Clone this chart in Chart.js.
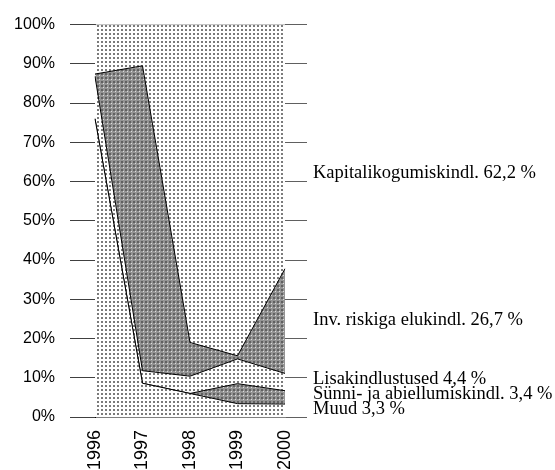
<!DOCTYPE html>
<html>
<head>
<meta charset="utf-8">
<script src="https://cdn.jsdelivr.net/npm/chart.js@4/dist/chart.umd.min.js"></script>
<style>
  body { margin: 0; background: #fff; }
  canvas { display: block; }
</style>
</head>
<body>
<canvas id="chart" width="555" height="470"></canvas>
<script>
// shares of each insurance type, % of total, 1996-2000
const years = ['1996', '1997', '1998', '1999', '2000'];
const muud = [76.0, 8.6, 6.0, 3.4, 3.3];
const synni = [0, 0, 0, 5.1, 3.4];
const lisa = [10.8, 3.2, 4.4, 6.3, 4.4];
const inv = [0.6, 77.7, 8.6, 0.8, 26.7];
const kapital = [12.6, 10.5, 81.0, 84.4, 62.2];
const seriesNames = ['Muud', 'Sünni- ja abiellumiskindl.', 'Lisakindlustused', 'Inv. riskiga elukindl.', 'Kapitalikogumiskindl.'];
const yTicks = [0, 10, 20, 30, 40, 50, 60, 70, 80, 90, 100];

// where the right-hand series labels sit, in axis units (same order as seriesNames)
const labelAt = [2.0, 5.8, 9.6, 24.7, 62.2];

function makePattern(bg, dot, spot) {
  const c = document.createElement('canvas');
  c.width = 4; c.height = 4;
  const g = c.getContext('2d');
  g.fillStyle = bg;
  g.fillRect(0, 0, 4, 4);
  g.fillStyle = dot;
  g.fillRect(1, 1, 2, 2);
  if (spot) {
    g.fillStyle = spot;
    g.fillRect(3, 3, 1, 1);
  }
  return g.createPattern(c, 'repeat');
}

const ctx = document.getElementById('chart').getContext('2d');
const light = makePattern('#ffffff', '#7a7a7a');
const dark = makePattern('#949494', '#606060', '#dcdcdc');

const seriesData = [muud, synni, lisa, inv, kapital];
const fills = [light, dark, light, dark, light];

const rightLabels = {
  id: 'rightLabels',
  afterDraw(chart) {
    const y = chart.scales.y;
    const x0 = chart.chartArea.right + 28;
    const c = chart.ctx;
    c.save();
    c.fillStyle = '#000';
    c.font = '18.5px "Liberation Serif", "Times New Roman", serif';
    c.textBaseline = 'middle';
    c.textAlign = 'left';
    seriesNames.forEach((name, i) => {
      const vals = seriesData[i];
      const last = vals[vals.length - 1];
      const txt = name + ' ' + last.toFixed(1).replace('.', ',') + ' %';
      c.fillText(txt, x0, y.getPixelForValue(labelAt[i]));
    });
    c.restore();
  }
};

new Chart(ctx, {
  type: 'line',
  data: {
    labels: years,
    datasets: seriesData.map((vals, i) => ({
      label: seriesNames[i],
      data: vals,
      fill: i === 0 ? 'origin' : '-1',
      backgroundColor: fills[i],
      borderColor: i === 4 ? '#808080' : '#000',
      borderWidth: 1,
      pointRadius: 0,
      tension: 0,
      yAxisID: 'y'
    }))
  },
  options: {
    responsive: false,
    animation: false,
    devicePixelRatio: 1,
    layout: { padding: { top: 20, left: 0, right: 0, bottom: 0 } },
    plugins: {
      legend: { display: false },
      tooltip: { enabled: false }
    },
    scales: {
      x: {
        type: 'category',
        offset: false,
        grid: { display: false, drawTicks: false },
        border: { display: true, color: '#808080' },
        ticks: {
          minRotation: 90, maxRotation: 90, padding: 13, color: '#000',
          font: { size: 18, family: '"Liberation Sans", Arial, sans-serif' }
        },
        afterFit: s => { s.height = 53; }
      },
      y: {
        stacked: true,
        position: 'left',
        min: 0, max: 100,
        afterBuildTicks: s => { s.ticks = yTicks.map(v => ({ value: v })); },
        ticks: {
          callback: v => v + '%', padding: 15, color: '#000',
          font: { size: 16, family: '"Liberation Sans", Arial, sans-serif' }
        },
        grid: { drawOnChartArea: false, tickLength: 25, color: '#404040' },
        border: { color: '#000' },
        afterFit: s => { s.width = 95; }
      },
      y2: {
        position: 'right',
        min: 0, max: 100,
        afterBuildTicks: s => { s.ticks = yTicks.map(v => ({ value: v })); },
        ticks: { display: false },
        grid: { drawOnChartArea: false, tickLength: 22, color: '#606060' },
        border: { display: false },
        afterFit: s => { s.width = 270; }
      }
    }
  },
  plugins: [rightLabels]
});
</script>
</body>
</html>
